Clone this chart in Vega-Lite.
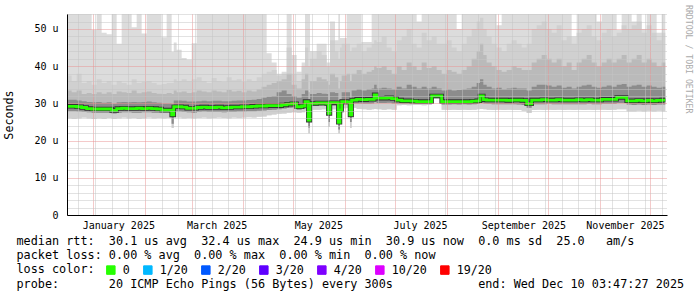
{
"$schema": "https://vega.github.io/schema/vega-lite/v6.json",
"width": 600, "height": 201,
"autosize": {"type": "none"},
"padding": {"left": 67, "top": 14, "right": 30, "bottom": 82},
"background": "#ffffff",
"config": {"view": {"stroke": null}},
"title": {"text": "RRDTOOL / TOBI OETIKER", "orient": "right", "anchor": "start", "frame": "group", "font": "DejaVu Sans Mono", "fontSize": 8.2, "fontWeight": "normal", "color": "#aaaaaa", "offset": 0, "dx": -9},
"data": {"values": [
{"d":"2024-12-16","lo":26.0,"l2":27.9,"m":29.2,"h1":31.0,"h2":33.5,"h3":37.5,"hi":54},
{"d":"2024-12-19","lo":25.9,"l2":27.9,"m":29.2,"h1":31.0,"h2":33.0,"h3":36.0,"hi":54},
{"d":"2024-12-22","lo":26.0,"l2":27.8,"m":29.1,"h1":30.8,"h2":33.5,"h3":38.0,"hi":54},
{"d":"2024-12-25","lo":26.2,"l2":27.7,"m":28.9,"h1":30.6,"h2":32.5,"h3":35.5,"hi":54},
{"d":"2024-12-28","lo":26.0,"l2":27.6,"m":28.6,"h1":30.4,"h2":32.8,"h3":36.0,"hi":54},
{"d":"2024-12-31","lo":25.8,"l2":27.5,"m":28.5,"h1":30.3,"h2":32.5,"h3":35.0,"hi":49.7},
{"d":"2025-01-03","lo":26.0,"l2":27.5,"m":28.5,"h1":30.4,"h2":33.0,"h3":36.5,"hi":54},
{"d":"2025-01-06","lo":25.9,"l2":27.5,"m":28.5,"h1":30.2,"h2":32.6,"h3":35.5,"hi":49.0},
{"d":"2025-01-09","lo":26.1,"l2":27.5,"m":28.5,"h1":30.3,"h2":33.0,"h3":36.0,"hi":48.6},
{"d":"2025-01-12","lo":25.9,"l2":27.3,"m":28.1,"h1":29.9,"h2":32.5,"h3":35.0,"hi":54},
{"d":"2025-01-15","lo":26.0,"l2":27.5,"m":28.6,"h1":30.3,"h2":33.2,"h3":36.0,"hi":46.0},
{"d":"2025-01-18","lo":26.2,"l2":27.6,"m":28.7,"h1":30.4,"h2":33.0,"h3":35.5,"hi":54},
{"d":"2025-01-21","lo":26.0,"l2":27.6,"m":28.6,"h1":30.3,"h2":32.8,"h3":35.0,"hi":54},
{"d":"2025-01-24","lo":26.1,"l2":27.5,"m":28.6,"h1":30.4,"h2":33.5,"h3":36.5,"hi":50.5},
{"d":"2025-01-27","lo":25.9,"l2":27.5,"m":28.7,"h1":30.3,"h2":32.7,"h3":35.5,"hi":54},
{"d":"2025-01-30","lo":26.0,"l2":27.6,"m":28.6,"h1":30.4,"h2":33.0,"h3":35.8,"hi":48.8},
{"d":"2025-02-02","lo":26.2,"l2":27.6,"m":28.7,"h1":30.5,"h2":33.2,"h3":36.0,"hi":54},
{"d":"2025-02-05","lo":26.0,"l2":27.5,"m":28.6,"h1":30.3,"h2":32.8,"h3":35.5,"hi":54},
{"d":"2025-02-08","lo":26.1,"l2":27.5,"m":28.5,"h1":30.2,"h2":32.6,"h3":35.0,"hi":54},
{"d":"2025-02-11","lo":26.0,"l2":27.4,"m":28.2,"h1":30.0,"h2":32.5,"h3":35.2,"hi":47.8},
{"d":"2025-02-14","lo":26.1,"l2":27.4,"m":28.2,"h1":30.0,"h2":32.8,"h3":35.5,"hi":54},
{"d":"2025-02-17","lo":23.4,"l2":24.5,"m":26.9,"h1":29.5,"h2":32.5,"h3":35.5,"hi":43.8},
{"d":"2025-02-18T06:00:00Z","lo":26.3,"l2":27.8,"m":29.1,"h1":30.8,"h2":33.5,"h3":36.5,"hi":46.4},
{"d":"2025-02-20","lo":26.2,"l2":27.8,"m":29.1,"h1":30.8,"h2":33.0,"h3":36.0,"hi":44.4},
{"d":"2025-02-23","lo":26.0,"l2":27.7,"m":29.0,"h1":30.7,"h2":33.2,"h3":36.5,"hi":42.2},
{"d":"2025-02-26","lo":26.1,"l2":27.6,"m":28.7,"h1":30.5,"h2":32.8,"h3":36.0,"hi":41.7},
{"d":"2025-03-01","lo":26.0,"l2":27.5,"m":28.7,"h1":30.5,"h2":33.0,"h3":36.5,"hi":46.2},
{"d":"2025-03-04","lo":26.1,"l2":27.7,"m":28.9,"h1":30.6,"h2":33.5,"h3":37.0,"hi":54},
{"d":"2025-03-07","lo":26.2,"l2":27.8,"m":29.0,"h1":30.7,"h2":33.2,"h3":36.0,"hi":54},
{"d":"2025-03-10","lo":26.0,"l2":27.7,"m":28.9,"h1":30.6,"h2":33.0,"h3":35.5,"hi":54},
{"d":"2025-03-13","lo":26.1,"l2":27.7,"m":28.9,"h1":30.7,"h2":33.5,"h3":36.8,"hi":54},
{"d":"2025-03-16","lo":26.2,"l2":27.7,"m":29.0,"h1":30.7,"h2":33.2,"h3":36.0,"hi":54},
{"d":"2025-03-19","lo":26.1,"l2":27.6,"m":28.8,"h1":30.6,"h2":33.0,"h3":35.8,"hi":54},
{"d":"2025-03-22","lo":26.0,"l2":27.7,"m":28.9,"h1":30.6,"h2":33.6,"h3":37.0,"hi":54},
{"d":"2025-03-25","lo":26.2,"l2":27.7,"m":29.0,"h1":30.7,"h2":33.2,"h3":36.2,"hi":54},
{"d":"2025-03-28","lo":26.1,"l2":27.8,"m":29.0,"h1":30.8,"h2":33.4,"h3":36.5,"hi":54},
{"d":"2025-03-31","lo":26.2,"l2":27.8,"m":29.1,"h1":30.8,"h2":33.0,"h3":35.8,"hi":54},
{"d":"2025-04-03","lo":26.3,"l2":27.9,"m":29.1,"h1":30.9,"h2":33.5,"h3":36.5,"hi":54},
{"d":"2025-04-06","lo":26.2,"l2":27.9,"m":29.2,"h1":31.0,"h2":33.2,"h3":36.0,"hi":54},
{"d":"2025-04-09","lo":26.4,"l2":28.0,"m":29.3,"h1":31.2,"h2":33.8,"h3":37.0,"hi":54},
{"d":"2025-04-12","lo":26.5,"l2":28.1,"m":29.3,"h1":31.5,"h2":34.5,"h3":38.0,"hi":54},
{"d":"2025-04-15","lo":26.8,"l2":28.2,"m":29.4,"h1":31.8,"h2":35.0,"h3":38.5,"hi":43.5},
{"d":"2025-04-18","lo":27.0,"l2":28.3,"m":29.4,"h1":32.0,"h2":35.5,"h3":39.0,"hi":41.0},
{"d":"2025-04-21","lo":27.2,"l2":28.4,"m":29.4,"h1":33.0,"h2":36.0,"h3":37.5,"hi":38.0},
{"d":"2025-04-24","lo":27.3,"l2":28.6,"m":29.6,"h1":33.5,"h2":36.5,"h3":38.0,"hi":38.5},
{"d":"2025-04-27","lo":27.5,"l2":28.8,"m":29.8,"h1":32.5,"h2":38.0,"h3":45.0,"hi":54},
{"d":"2025-04-30","lo":27.6,"l2":28.9,"m":29.9,"h1":32.0,"h2":35.0,"h3":38.0,"hi":43.0},
{"d":"2025-05-03","lo":27.5,"l2":28.3,"m":29.1,"h1":31.5,"h2":34.0,"h3":36.0,"hi":38.5},
{"d":"2025-05-06","lo":27.6,"l2":28.5,"m":29.3,"h1":32.5,"h2":36.5,"h3":40.0,"hi":41.0},
{"d":"2025-05-08","lo":28.0,"l2":29.3,"m":30.5,"h1":33.5,"h2":38.0,"h3":45.0,"hi":54},
{"d":"2025-05-10","lo":22.0,"l2":23.5,"m":25.5,"h1":29.5,"h2":33.0,"h3":40.0,"hi":54},
{"d":"2025-05-11T00:00:00Z","lo":28.3,"l2":29.3,"m":30.0,"h1":32.5,"h2":36.0,"h3":42.0,"hi":44.0},
{"d":"2025-05-15","lo":28.3,"l2":29.3,"m":30.1,"h1":32.8,"h2":37.0,"h3":44.0,"hi":46.0},
{"d":"2025-05-18","lo":28.4,"l2":29.4,"m":30.1,"h1":32.6,"h2":36.5,"h3":43.0,"hi":46.0},
{"d":"2025-05-21","lo":28.3,"l2":29.3,"m":30.0,"h1":32.5,"h2":36.0,"h3":40.0,"hi":41.0},
{"d":"2025-05-22","lo":23.7,"l2":25.0,"m":27.3,"h1":30.5,"h2":35.0,"h3":40.0,"hi":41.0},
{"d":"2025-05-23T00:00:00Z","lo":28.4,"l2":29.4,"m":30.2,"h1":33.0,"h2":38.0,"h3":47.0,"hi":52.0},
{"d":"2025-05-26","lo":28.4,"l2":29.4,"m":30.2,"h1":32.8,"h2":37.0,"h3":44.0,"hi":47.0},
{"d":"2025-05-28","lo":22.0,"l2":23.0,"m":24.9,"h1":28.5,"h2":34.0,"h3":42.0,"hi":54},
{"d":"2025-05-29T00:00:00Z","lo":25.5,"l2":26.5,"m":28.2,"h1":31.0,"h2":36.0,"h3":45.0,"hi":47.6},
{"d":"2025-05-30","lo":28.7,"l2":29.7,"m":30.5,"h1":33.0,"h2":37.5,"h3":46.0,"hi":47.6},
{"d":"2025-06-02","lo":28.8,"l2":29.8,"m":30.4,"h1":33.0,"h2":38.0,"h3":46.0,"hi":54},
{"d":"2025-06-04","lo":23.4,"l2":25.0,"m":26.9,"h1":30.5,"h2":36.0,"h3":44.0,"hi":54},
{"d":"2025-06-05T00:00:00Z","lo":28.8,"l2":30.0,"m":30.9,"h1":33.5,"h2":38.0,"h3":45.0,"hi":54},
{"d":"2025-06-08","lo":28.5,"l2":30.0,"m":31.1,"h1":33.8,"h2":39.0,"h3":46.0,"hi":54},
{"d":"2025-06-11","lo":28.4,"l2":29.9,"m":31.0,"h1":33.5,"h2":38.0,"h3":44.0,"hi":46.5},
{"d":"2025-06-14","lo":28.3,"l2":29.9,"m":31.1,"h1":33.8,"h2":38.5,"h3":45.0,"hi":46.5},
{"d":"2025-06-17","lo":28.4,"l2":30.0,"m":31.1,"h1":34.0,"h2":39.0,"h3":46.0,"hi":54},
{"d":"2025-06-18T12:00:00Z","lo":28.5,"l2":30.3,"m":32.3,"h1":35.0,"h2":40.0,"h3":47.0,"hi":54},
{"d":"2025-06-20","lo":28.4,"l2":30.1,"m":31.4,"h1":34.0,"h2":39.5,"h3":46.5,"hi":54},
{"d":"2025-06-23","lo":28.3,"l2":30.1,"m":31.4,"h1":34.2,"h2":40.0,"h3":48.0,"hi":54},
{"d":"2025-06-26","lo":28.4,"l2":30.2,"m":31.5,"h1":34.0,"h2":39.0,"h3":45.0,"hi":54},
{"d":"2025-06-29","lo":28.3,"l2":30.0,"m":31.3,"h1":33.8,"h2":38.0,"h3":44.0,"hi":54},
{"d":"2025-07-02","lo":29.5,"l2":30.0,"m":30.9,"h1":34.5,"h2":40.0,"h3":47.0,"hi":54},
{"d":"2025-07-05","lo":29.6,"l2":29.9,"m":30.7,"h1":34.0,"h2":39.0,"h3":48.0,"hi":54},
{"d":"2025-07-08","lo":29.5,"l2":29.9,"m":30.7,"h1":35.0,"h2":41.0,"h3":50.0,"hi":54},
{"d":"2025-07-11","lo":29.6,"l2":29.9,"m":30.6,"h1":34.5,"h2":40.0,"h3":46.0,"hi":54},
{"d":"2025-07-14","lo":29.6,"l2":29.9,"m":30.5,"h1":34.0,"h2":39.0,"h3":45.0,"hi":52.0},
{"d":"2025-07-17","lo":29.5,"l2":29.9,"m":30.5,"h1":34.5,"h2":41.0,"h3":49.0,"hi":54},
{"d":"2025-07-20","lo":29.6,"l2":29.9,"m":30.5,"h1":34.0,"h2":39.5,"h3":47.0,"hi":54},
{"d":"2025-07-23","lo":31.3,"l2":31.5,"m":32.0,"h1":34.5,"h2":40.0,"h3":48.0,"hi":54},
{"d":"2025-07-26","lo":31.3,"l2":31.5,"m":32.0,"h1":34.0,"h2":39.0,"h3":46.0,"hi":54},
{"d":"2025-07-29","lo":28.3,"l2":29.7,"m":30.5,"h1":33.5,"h2":38.0,"h3":46.0,"hi":54},
{"d":"2025-08-01","lo":28.2,"l2":29.7,"m":30.5,"h1":33.8,"h2":39.0,"h3":47.0,"hi":54},
{"d":"2025-08-04","lo":28.3,"l2":29.8,"m":30.5,"h1":33.5,"h2":38.5,"h3":45.0,"hi":54},
{"d":"2025-08-07","lo":28.2,"l2":29.7,"m":30.5,"h1":33.6,"h2":38.0,"h3":44.0,"hi":50.0},
{"d":"2025-08-10","lo":28.3,"l2":29.8,"m":30.5,"h1":33.8,"h2":39.0,"h3":46.0,"hi":54},
{"d":"2025-08-13","lo":28.2,"l2":29.7,"m":30.5,"h1":34.0,"h2":40.0,"h3":48.0,"hi":54},
{"d":"2025-08-16","lo":28.3,"l2":29.8,"m":30.6,"h1":34.5,"h2":42.0,"h3":50.0,"hi":54},
{"d":"2025-08-19","lo":28.4,"l2":29.9,"m":30.7,"h1":35.5,"h2":44.0,"h3":52.0,"hi":54},
{"d":"2025-08-21","lo":28.5,"l2":30.2,"m":32.0,"h1":36.5,"h2":46.0,"h3":53.0,"hi":54},
{"d":"2025-08-23","lo":28.4,"l2":30.0,"m":31.0,"h1":35.0,"h2":43.0,"h3":50.0,"hi":54},
{"d":"2025-08-25","lo":28.3,"l2":29.9,"m":30.9,"h1":34.5,"h2":41.0,"h3":48.0,"hi":54},
{"d":"2025-08-28","lo":28.2,"l2":29.8,"m":30.9,"h1":34.0,"h2":40.0,"h3":46.0,"hi":54},
{"d":"2025-08-31","lo":28.3,"l2":29.8,"m":30.9,"h1":34.2,"h2":39.0,"h3":45.0,"hi":51.0},
{"d":"2025-09-03","lo":28.2,"l2":29.8,"m":30.9,"h1":33.8,"h2":38.5,"h3":44.0,"hi":54},
{"d":"2025-09-06","lo":28.3,"l2":29.8,"m":30.8,"h1":34.0,"h2":39.0,"h3":46.0,"hi":54},
{"d":"2025-09-09","lo":28.2,"l2":29.8,"m":30.9,"h1":34.2,"h2":40.0,"h3":47.0,"hi":54},
{"d":"2025-09-12","lo":28.2,"l2":29.7,"m":30.9,"h1":34.0,"h2":39.5,"h3":46.0,"hi":54},
{"d":"2025-09-15","lo":28.0,"l2":29.6,"m":30.8,"h1":34.0,"h2":39.0,"h3":45.0,"hi":54},
{"d":"2025-09-18","lo":27.4,"l2":28.8,"m":29.9,"h1":33.5,"h2":39.0,"h3":46.0,"hi":54},
{"d":"2025-09-21","lo":28.2,"l2":29.8,"m":30.9,"h1":34.5,"h2":41.0,"h3":50.0,"hi":54},
{"d":"2025-09-24","lo":28.3,"l2":29.8,"m":30.9,"h1":35.0,"h2":42.0,"h3":51.0,"hi":54},
{"d":"2025-09-27","lo":28.2,"l2":29.8,"m":31.0,"h1":35.0,"h2":43.0,"h3":52.0,"hi":54},
{"d":"2025-09-30","lo":28.3,"l2":29.9,"m":30.9,"h1":34.8,"h2":42.0,"h3":50.0,"hi":54},
{"d":"2025-10-03","lo":28.2,"l2":29.8,"m":30.9,"h1":34.5,"h2":41.0,"h3":49.0,"hi":54},
{"d":"2025-10-06","lo":28.3,"l2":29.8,"m":31.0,"h1":34.8,"h2":42.0,"h3":51.0,"hi":54},
{"d":"2025-10-09","lo":28.2,"l2":29.8,"m":30.9,"h1":34.2,"h2":40.0,"h3":47.0,"hi":54},
{"d":"2025-10-12","lo":28.3,"l2":29.8,"m":30.9,"h1":34.5,"h2":41.0,"h3":48.0,"hi":54},
{"d":"2025-10-15","lo":28.2,"l2":29.8,"m":30.9,"h1":34.0,"h2":39.0,"h3":46.0,"hi":48.0},
{"d":"2025-10-18","lo":28.3,"l2":29.8,"m":31.0,"h1":34.5,"h2":41.0,"h3":49.0,"hi":54},
{"d":"2025-10-21","lo":28.2,"l2":29.8,"m":30.9,"h1":34.8,"h2":42.0,"h3":50.0,"hi":54},
{"d":"2025-10-24","lo":28.3,"l2":29.9,"m":31.0,"h1":35.0,"h2":43.0,"h3":51.0,"hi":54},
{"d":"2025-10-27","lo":28.2,"l2":29.8,"m":30.9,"h1":34.5,"h2":41.0,"h3":48.0,"hi":54},
{"d":"2025-10-30","lo":28.3,"l2":29.8,"m":30.9,"h1":34.2,"h2":40.0,"h3":47.0,"hi":52.0},
{"d":"2025-11-02","lo":28.3,"l2":29.9,"m":31.1,"h1":34.5,"h2":41.0,"h3":49.0,"hi":54},
{"d":"2025-11-05","lo":28.2,"l2":29.9,"m":31.1,"h1":34.8,"h2":42.0,"h3":50.0,"hi":54},
{"d":"2025-11-08","lo":28.3,"l2":29.9,"m":31.1,"h1":34.5,"h2":41.0,"h3":48.0,"hi":54},
{"d":"2025-11-11","lo":28.4,"l2":30.1,"m":31.6,"h1":35.0,"h2":42.0,"h3":49.0,"hi":49.7},
{"d":"2025-11-14","lo":28.4,"l2":30.1,"m":31.6,"h1":35.2,"h2":43.0,"h3":51.0,"hi":54},
{"d":"2025-11-17","lo":27.9,"l2":29.7,"m":30.7,"h1":34.5,"h2":41.0,"h3":50.0,"hi":54},
{"d":"2025-11-20","lo":27.9,"l2":29.6,"m":30.7,"h1":34.8,"h2":42.0,"h3":51.0,"hi":52.0},
{"d":"2025-11-23","lo":28.0,"l2":29.7,"m":30.8,"h1":35.0,"h2":43.0,"h3":52.0,"hi":54},
{"d":"2025-11-26","lo":27.9,"l2":29.6,"m":30.7,"h1":34.5,"h2":41.0,"h3":49.0,"hi":50.0},
{"d":"2025-11-29","lo":28.0,"l2":29.7,"m":30.8,"h1":34.8,"h2":42.0,"h3":51.0,"hi":54},
{"d":"2025-12-02","lo":27.9,"l2":29.6,"m":30.7,"h1":34.5,"h2":41.0,"h3":49.0,"hi":54},
{"d":"2025-12-05","lo":28.0,"l2":29.7,"m":30.8,"h1":34.2,"h2":40.0,"h3":47.0,"hi":49.0},
{"d":"2025-12-08","lo":27.9,"l2":29.7,"m":30.9,"h1":34.5,"h2":41.0,"h3":49.0,"hi":54},
{"d":"2025-12-10T04:00:00Z","lo":27.9,"l2":29.7,"m":30.9,"h1":34.5,"h2":41.0,"h3":49.0,"hi":54}
]},
"encoding": {
  "x": {"field": "d", "type": "temporal",
    "scale": {"type": "utc", "domain": [{"year":2024,"month":12,"date":16,"hours":5,"utc":true},{"year":2025,"month":12,"date":11,"hours":5,"utc":true}], "nice": false},
    "axis": {
      "tickCount": 1000,
      "values": [
        {"year":2025,"month":1,"date":1,"utc":true},{"year":2025,"month":2,"date":1,"utc":true},{"year":2025,"month":3,"date":1,"utc":true},{"year":2025,"month":4,"date":1,"utc":true},{"year":2025,"month":5,"date":1,"utc":true},{"year":2025,"month":6,"date":1,"utc":true},{"year":2025,"month":7,"date":1,"utc":true},{"year":2025,"month":8,"date":1,"utc":true},{"year":2025,"month":9,"date":1,"utc":true},{"year":2025,"month":10,"date":1,"utc":true},{"year":2025,"month":11,"date":1,"utc":true},{"year":2025,"month":12,"date":1,"utc":true},
        {"year":2024,"month":12,"date":23,"utc":true},{"year":2025,"month":1,"date":2,"utc":true},{"year":2025,"month":1,"date":12,"utc":true},{"year":2025,"month":1,"date":22,"utc":true},{"year":2025,"month":2,"date":11,"utc":true},{"year":2025,"month":2,"date":21,"utc":true},{"year":2025,"month":3,"date":3,"utc":true},{"year":2025,"month":3,"date":13,"utc":true},{"year":2025,"month":3,"date":23,"utc":true},{"year":2025,"month":4,"date":2,"utc":true},{"year":2025,"month":4,"date":12,"utc":true},{"year":2025,"month":4,"date":22,"utc":true},{"year":2025,"month":5,"date":2,"utc":true},{"year":2025,"month":5,"date":12,"utc":true},{"year":2025,"month":5,"date":22,"utc":true},{"year":2025,"month":6,"date":11,"utc":true},{"year":2025,"month":6,"date":21,"utc":true},{"year":2025,"month":7,"date":11,"utc":true},{"year":2025,"month":7,"date":21,"utc":true},{"year":2025,"month":7,"date":31,"utc":true},{"year":2025,"month":8,"date":10,"utc":true},{"year":2025,"month":8,"date":20,"utc":true},{"year":2025,"month":8,"date":30,"utc":true},{"year":2025,"month":9,"date":9,"utc":true},{"year":2025,"month":9,"date":19,"utc":true},{"year":2025,"month":9,"date":29,"utc":true},{"year":2025,"month":10,"date":9,"utc":true},{"year":2025,"month":10,"date":19,"utc":true},{"year":2025,"month":10,"date":29,"utc":true},{"year":2025,"month":11,"date":8,"utc":true},{"year":2025,"month":11,"date":18,"utc":true},{"year":2025,"month":11,"date":28,"utc":true},{"year":2025,"month":12,"date":8,"utc":true},
        {"year":2025,"month":1,"date":16,"utc":true},{"year":2025,"month":3,"date":16,"utc":true},{"year":2025,"month":5,"date":16,"utc":true},{"year":2025,"month":7,"date":16,"utc":true},{"year":2025,"month":9,"date":16,"utc":true},{"year":2025,"month":11,"date":16,"utc":true}
      ],
      "grid": true,
      "gridColor": {"condition": {"test": "utcdate(datum.value) == 1", "value": "#e89494"}, "value": "#c4c4c4"},
      "gridOpacity": {"condition": {"test": "utcdate(datum.value) == 16", "value": 0}, "value": 1},
      "gridDash": [1, 1],
      "ticks": false,
      "domain": true, "domainColor": "#000000",
      "labelExpr": "utcdate(datum.value) == 16 ? utcFormat(datum.value, '%B %Y') : ''",
      "labelFont": "DejaVu Sans Mono", "labelFontSize": 10, "labelColor": "#000000", "labelPadding": 5,
      "labelOverlap": false, "labelFlush": false, "labelBound": false,
      "title": [
        "median\u00a0rtt:\u00a0\u00a030.1\u00a0us\u00a0avg\u00a0\u00a032.4\u00a0us\u00a0max\u00a0\u00a024.9\u00a0us\u00a0min\u00a0\u00a030.9\u00a0us\u00a0now\u00a0\u00a00.0\u00a0ms\u00a0sd\u00a0\u00a025.0\u00a0\u00a0\u00a0am/s",
        "packet\u00a0loss:\u00a00.00\u00a0%\u00a0avg\u00a0\u00a00.00\u00a0%\u00a0max\u00a0\u00a00.00\u00a0%\u00a0min\u00a0\u00a00.00\u00a0%\u00a0now",
        "loss\u00a0color:",
        "probe:\u00a0\u00a0\u00a0\u00a0\u00a0\u00a0\u00a020\u00a0ICMP\u00a0Echo\u00a0Pings\u00a0(56\u00a0Bytes)\u00a0every\u00a0300s\u00a0\u00a0\u00a0\u00a0\u00a0\u00a0\u00a0\u00a0\u00a0\u00a0\u00a0\u00a0end:\u00a0Wed\u00a0Dec\u00a010\u00a003:47:27\u00a02025"
      ],
      "titleX": -51, "titleY": 20, "titleAnchor": "start", "titleAlign": "left", "titleBaseline": "top",
      "titleFont": "DejaVu Sans Mono", "titleFontSize": 11.8, "titleFontWeight": "normal", "titleColor": "#000000", "titleLineHeight": 14.4,
      "zindex": 1
    }
  }
},
"layer": [
  {"mark": {"type": "area", "interpolate": "step-after", "color": "#dcdcdc", "clip": true},
   "encoding": {
     "y": {"field": "lo", "type": "quantitative",
       "scale": {"domain": [0, 54.03], "nice": false, "zero": false},
       "axis": {
         "tickCount": 1000,
         "values": [0,2,4,6,8,10,12,14,16,18,20,22,24,26,28,30,32,34,36,38,40,42,44,46,48,50,52,54],
         "grid": true,
         "gridColor": {"condition": {"test": "datum.value % 10 == 0", "value": "#e89494"}, "value": "#c4c4c4"},
         "gridDash": [1, 1],
         "ticks": false,
         "domain": true, "domainColor": "#000000",
         "labelExpr": "datum.value % 10 == 0 ? (datum.value == 0 ? '0' : datum.value + ' u') : ''",
         "labelFont": "DejaVu Sans Mono", "labelFontSize": 10, "labelColor": "#000000", "labelPadding": 9,
         "labelOverlap": false, "labelBound": false, "labelFlush": false,
         "title": "Seconds", "titleFont": "DejaVu Sans Mono", "titleFontSize": 11.7, "titleFontWeight": "normal", "titleColor": "#000000", "titlePadding": 19,
         "zindex": 1
       }},
     "y2": {"field": "hi"}
   }},
  {"mark": {"type": "area", "interpolate": "step-after", "color": "#d0d0d0", "clip": true},
   "encoding": {"y": {"field": "lo", "type": "quantitative", "title": "Seconds"}, "y2": {"field": "h3"}}},
  {"mark": {"type": "area", "interpolate": "step-after", "color": "#bababa", "clip": true},
   "encoding": {"y": {"field": "l2", "type": "quantitative", "title": "Seconds"}, "y2": {"field": "h2"}}},
  {"mark": {"type": "area", "interpolate": "step-after", "color": "#8c8c8c", "clip": true},
   "encoding": {"y": {"field": "l2", "type": "quantitative", "title": "Seconds"}, "y2": {"field": "h1"}}},
  {"mark": {"type": "line", "interpolate": "step-after", "color": "#333333", "strokeWidth": 4.5, "clip": true},
   "encoding": {"y": {"field": "m", "type": "quantitative", "title": "Seconds"}}},
  {"mark": {"type": "line", "interpolate": "step-after", "strokeWidth": 2.8, "clip": true},
   "encoding": {
     "y": {"field": "m", "type": "quantitative", "title": "Seconds"},
     "color": {"datum": "0", "type": "nominal",
       "scale": {"domain": ["0","1/20","2/20","3/20","4/20","10/20","19/20"], "range": ["#26ff00","#00b8ff","#0059ff","#5e00ff","#7e00ff","#dd00ff","#ff0000"]},
       "legend": {"orient": "none", "legendX": 38, "legendY": 250, "direction": "horizontal", "title": null,
         "symbolType": "square", "symbolSize": 72, "symbolStrokeWidth": 1, "symbolStrokeColor": "#000000",
         "labelFont": "DejaVu Sans Mono", "labelFontSize": 11.7, "labelColor": "#000000", "labelOffset": 6,
         "columnPadding": 11, "padding": 0,
         "encode": {"symbols": {"update": {"fill": {"scale": "color", "field": "value"}, "fillOpacity": {"value": 1}, "stroke": {"value": "#000000"}, "strokeWidth": {"value": 1}, "opacity": {"value": 1}}}}}
     }}}
]
}
